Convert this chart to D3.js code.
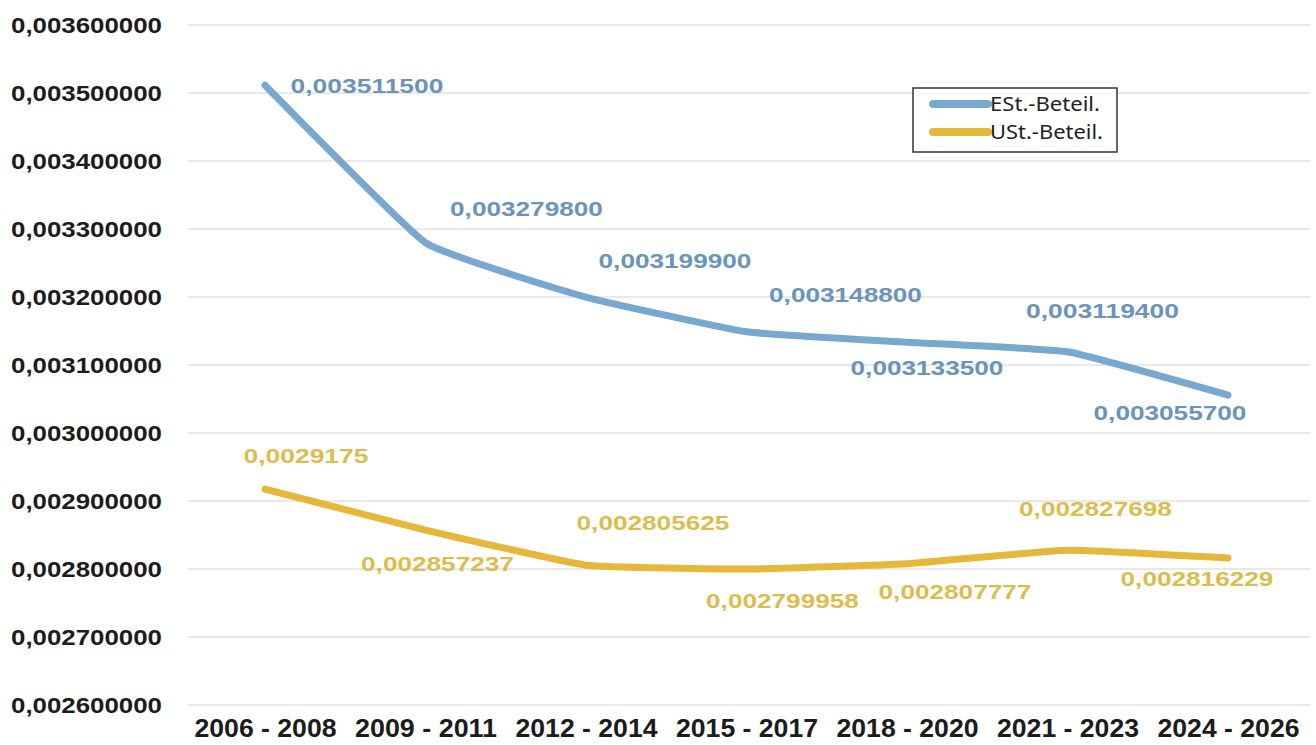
<!DOCTYPE html>
<html>
<head>
<meta charset="utf-8">
<script src="https://cdn.jsdelivr.net/npm/d3@7"></script>
<style>
  body { margin: 0; background: #fff; }
  svg { display: block; }
</style>
</head>
<body>
<div class="chart"></div>
<script>
// chart data
var categories = ['2006 - 2008', '2009 - 2011', '2012 - 2014', '2015 - 2017', '2018 - 2020', '2021 - 2023', '2024 - 2026'];
var estValues = [0.0035115, 0.0032798, 0.0031999, 0.0031488, 0.0031335, 0.0031194, 0.0030557];
var ustValues = [0.0029175, 0.002857237, 0.002805625, 0.002799958, 0.002807777, 0.002827698, 0.002816229];
var ustDecimals = [7, 9, 9, 9, 9, 9, 9];
var yTicks = [0.0026, 0.0027, 0.0028, 0.0029, 0.0030, 0.0031, 0.0032, 0.0033, 0.0034, 0.0035, 0.0036];
var seriesNames = ['ESt.-Beteil.', 'USt.-Beteil.'];

// label placement relative to each point (layout only)
var estOffsets = [[102, 8], [101, -27], [89, -29], [99, -30], [20, 33], [35, -34], [-58, 25]];
var ustOffsets = [[41, -26], [12, 41], [67, -35], [36, 39], [48, 35], [28, -34], [-31, 28]];

var width = 1316, height = 745;
var blueLine = '#78a7cf', blueText = '#6b94bb';
var goldLine = '#e5b83a', goldText = '#dbbd4e';

var svg = d3.select('.chart')
  .append('svg')
  .attr('width', width)
  .attr('height', height);

var x = d3.scalePoint()
  .domain(categories)
  .range([265, 1228]);

var y = d3.scaleLinear()
  .domain([0.0026, 0.0036])
  .range([705, 25]);

var comma = function (v, d) {
  return d3.format('.' + d + 'f')(v).replace('.', ',');
};

// gridlines
svg.append('g')
  .selectAll('line')
  .data(yTicks)
  .enter()
  .append('line')
  .attr('x1', 188)
  .attr('x2', 1310)
  .attr('y1', d => y(d))
  .attr('y2', d => y(d))
  .attr('stroke', '#e9e9e9')
  .attr('stroke-width', 2);

// y axis labels
var yAxis = svg.append('g')
  .attr('transform', 'translate(162,0)')
  .call(d3.axisLeft(y).tickValues(yTicks).tickSize(0).tickPadding(0).tickFormat(d => comma(d, 9)));
yAxis.select('.domain').remove();
yAxis.selectAll('text')
  .attr('font-family', 'Liberation Sans, Arial, sans-serif')
  .attr('font-weight', 'bold')
  .attr('font-size', 22)
  .attr('fill', '#1c1c1c')
  .attr('textLength', 151)
  .attr('lengthAdjust', 'spacingAndGlyphs');

// x axis labels
var xAxis = svg.append('g')
  .attr('transform', 'translate(0,712)')
  .call(d3.axisBottom(x).tickSize(0).tickPadding(7));
xAxis.select('.domain').remove();
xAxis.selectAll('text')
  .attr('font-family', 'Liberation Sans Narrow, Arial Narrow, Liberation Sans, sans-serif')
  .attr('font-weight', 'bold')
  .attr('font-size', 25)
  .attr('fill', '#1c1c1c')
  .attr('textLength', 142)
  .attr('lengthAdjust', 'spacingAndGlyphs');

var line = d3.line()
  .x((d, i) => x(categories[i]))
  .y(d => y(d))
  .curve(d3.curveCardinal.tension(0.65));

function drawSeries(values, color, textColor, offsets, fmt) {
  svg.append('path')
    .datum(values)
    .attr('d', line)
    .attr('fill', 'none')
    .attr('stroke', color)
    .attr('stroke-width', 7)
    .attr('stroke-linecap', 'round')
    .attr('stroke-linejoin', 'round');

  svg.append('g')
    .selectAll('text')
    .data(values)
    .enter()
    .append('text')
    .attr('x', (d, i) => x(categories[i]) + offsets[i][0])
    .attr('y', (d, i) => y(d) + offsets[i][1])
    .attr('text-anchor', 'middle')
    .attr('font-family', 'Liberation Sans, Arial, sans-serif')
    .attr('font-weight', 'bold')
    .attr('font-size', 21)
    .attr('fill', textColor)
    .attr('textLength', (d, i) => fmt(d, i).length * 13.9)
    .attr('lengthAdjust', 'spacingAndGlyphs')
    .text((d, i) => fmt(d, i));
}

drawSeries(estValues, blueLine, blueText, estOffsets, d => comma(d, 9));
drawSeries(ustValues, goldLine, goldText, ustOffsets, (d, i) => comma(d, ustDecimals[i]));

// legend
var legend = svg.append('g')
  .attr('transform', 'translate(913,88)');
legend.append('rect')
  .attr('width', 204)
  .attr('height', 64)
  .attr('fill', '#fff')
  .attr('stroke', '#333')
  .attr('stroke-width', 1.5);
var items = legend.selectAll('g')
  .data(seriesNames)
  .enter()
  .append('g')
  .attr('transform', (d, i) => 'translate(0,' + (16 + i * 28) + ')');
items.append('line')
  .attr('x1', 20)
  .attr('x2', 75)
  .attr('stroke', (d, i) => i === 0 ? blueLine : goldLine)
  .attr('stroke-width', 8)
  .attr('stroke-linecap', 'round');
items.append('text')
  .attr('x', 77)
  .attr('y', 7)
  .attr('font-family', 'Noto Sans, Open Sans, sans-serif')
  .attr('font-size', 19)
  .attr('fill', '#222')
  .attr('textLength', (d, i) => i === 0 ? 110 : 113)
  .attr('lengthAdjust', 'spacingAndGlyphs')
  .text(d => d);
</script>
</body>
</html>
